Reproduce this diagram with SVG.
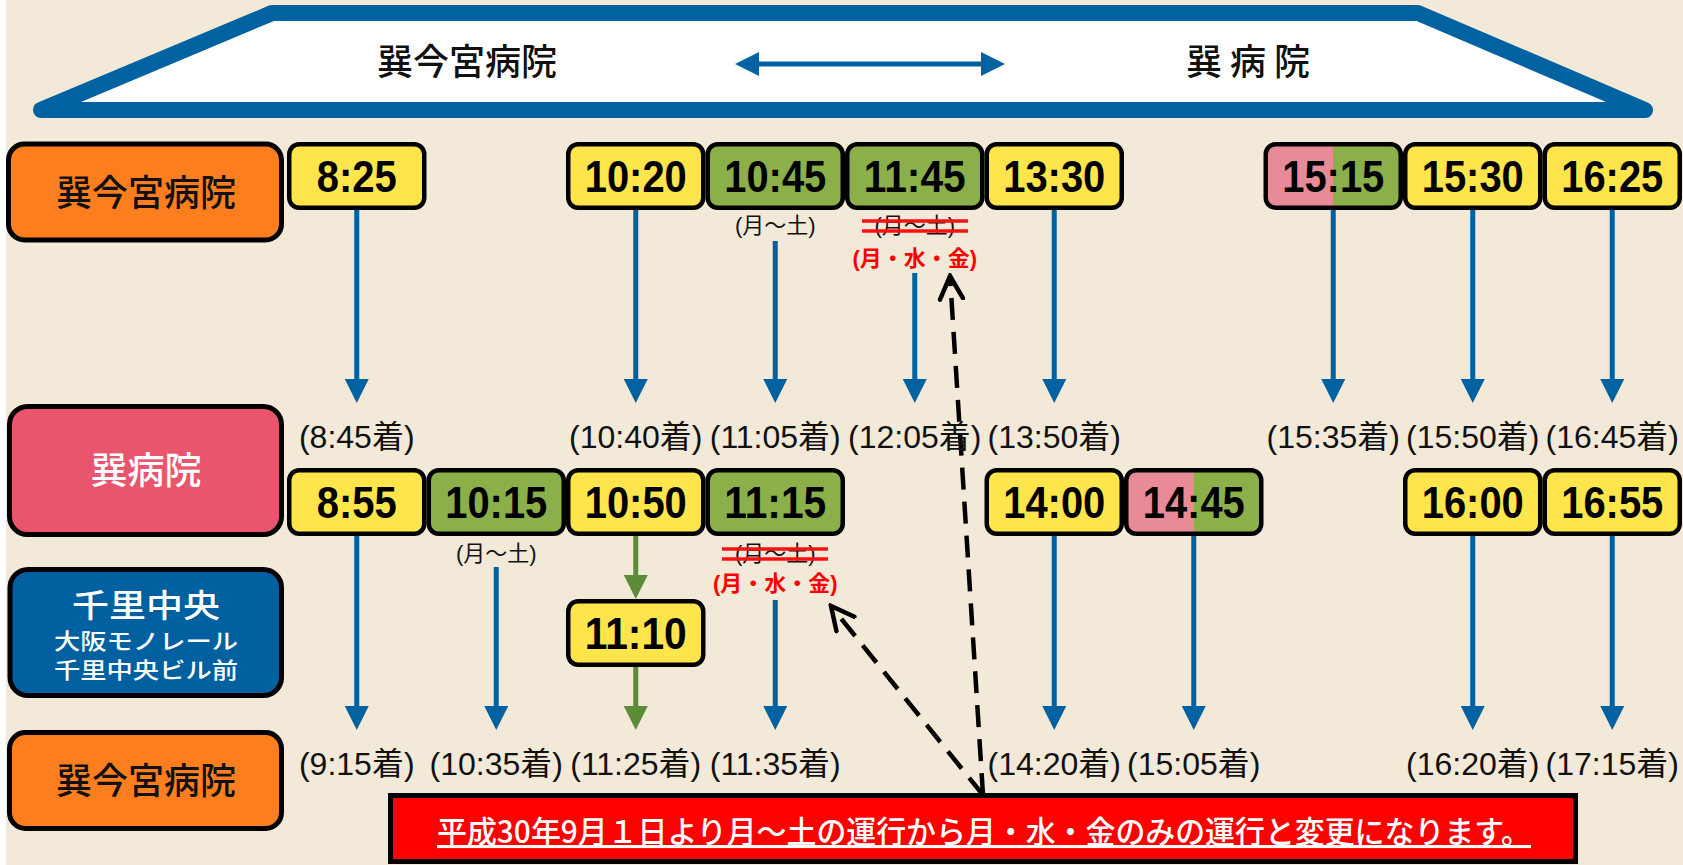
<svg xmlns="http://www.w3.org/2000/svg" width="1683" height="865" viewBox="0 0 1683 865">
<style>
.tb{stroke:#000;stroke-width:4.5}
.y{fill:#FFE54C}
.g{fill:#8BB04A}
.pg{fill:url(#pgGrad)}
.tt{font-family:'Liberation Sans',Arial,sans-serif;font-weight:bold;font-size:45px;text-anchor:middle;fill:#000}
.arr{font-family:'Liberation Sans','Noto Sans CJK JP',sans-serif;font-size:32px;text-anchor:middle;fill:#111}
.sm{font-family:'Liberation Sans','Noto Sans CJK JP',sans-serif;font-size:22px;text-anchor:middle;fill:#111}
.rd{font-family:'Liberation Sans','Noto Sans CJK JP',sans-serif;font-size:22px;font-weight:bold;text-anchor:middle;fill:#FF0000}
.strike{stroke:#FF1010;stroke-width:3.5}
.nd{stroke:#000;stroke-width:5}
.jp{font-family:'Noto Sans CJK JP',sans-serif;text-anchor:middle;font-weight:500}
.bl{stroke:#0062A0;stroke-width:5;fill:none;marker-end:url(#ab)}
.gr{stroke:#5B8C37;stroke-width:5;fill:none;marker-end:url(#ag)}
.dash{stroke:#000;stroke-width:4.5;fill:none;stroke-dasharray:22 12;marker-end:url(#ah)}
</style>
<defs>
<linearGradient id="pgGrad" x1="0" y1="0" x2="1" y2="0">
<stop offset="0.5" stop-color="#E98A98"/>
<stop offset="0.5" stop-color="#8BB04A"/>
</linearGradient>
<marker id="ab" viewBox="0 0 24 24" markerWidth="24" markerHeight="24" markerUnits="userSpaceOnUse" refX="14" refY="12" orient="auto-start-reverse">
<path d="M0,0 L24,12 L0,24 z" fill="#0062A0"/>
</marker>
<marker id="ag" viewBox="0 0 24 24" markerWidth="24" markerHeight="24" markerUnits="userSpaceOnUse" refX="14" refY="12" orient="auto">
<path d="M0,0 L24,12 L0,24 z" fill="#5B8C37"/>
</marker>
<marker id="ah" viewBox="0 0 28 28" markerWidth="28" markerHeight="28" markerUnits="userSpaceOnUse" refX="25" refY="14" orient="auto">
<path d="M2,2.5 L25,14 L2,25.5" fill="none" stroke="#000" stroke-width="4.5" stroke-linecap="round" stroke-linejoin="miter"/>
</marker>
</defs>

<rect x="0" y="0" width="1683" height="865" fill="#FFFFFF"/>
<rect x="6" y="0" width="1677" height="865" fill="#F2E9D8"/>

<g id="banner">
<polygon points="41,110 272,13 1418,13 1645,110" fill="#FFFFFF" stroke="#0062A0" stroke-width="16" stroke-linejoin="round"/>
<text class="jp" x="467" y="75" font-size="36" fill="#111">巽今宮病院</text>
<text class="jp" x="1248" y="75" font-size="36" fill="#111">巽 病 院</text>
<line x1="745" y1="64" x2="995" y2="64" stroke="#0062A0" stroke-width="5" marker-start="url(#ab)" marker-end="url(#ab)"/>
</g>

<g id="node-tatsumi-imamiya-1">
<rect class="nd" x="8.5" y="144" width="273" height="96" rx="16" fill="#FD7E1F"/>
<text class="jp" x="146" y="206" font-size="36" fill="#111">巽今宮病院</text>
</g>
<g id="node-tatsumi">
<rect class="nd" x="9.5" y="406.5" width="272" height="128" rx="18" fill="#EA556E"/>
<text class="jp" x="146" y="484" font-size="37" fill="#FFFFFF" font-weight="normal">巽病院</text>
</g>
<g id="node-senri-chuo">
<rect class="nd" x="10" y="569.5" width="271.5" height="126" rx="18" fill="#0060A0"/>
<text class="jp" x="146" y="617" font-size="32" fill="#FFFFFF" textLength="148" lengthAdjust="spacingAndGlyphs">千里中央</text>
<text class="jp" x="146" y="649" font-size="22" fill="#FFFFFF" textLength="184" lengthAdjust="spacingAndGlyphs">大阪モノレール</text>
<text class="jp" x="146" y="678" font-size="22" fill="#FFFFFF" textLength="184" lengthAdjust="spacingAndGlyphs">千里中央ビル前</text>
</g>
<g id="node-tatsumi-imamiya-2">
<rect class="nd" x="9.5" y="732.5" width="272" height="96" rx="16" fill="#FD7E1F"/>
<text class="jp" x="146" y="794" font-size="36" fill="#111">巽今宮病院</text>
</g>

<g id="connectors">
<path class="bl" d="M356.75,210 V393"/>
<path class="bl" d="M635.75,210 V393"/>
<path class="bl" d="M775.25,241 V393"/>
<path class="bl" d="M914.75,273 V393"/>
<path class="bl" d="M1054.25,210 V393"/>
<path class="bl" d="M1333.25,210 V393"/>
<path class="bl" d="M1472.75,210 V393"/>
<path class="bl" d="M1612.25,210 V393"/>
<path class="bl" d="M356.75,536 V720"/>
<path class="bl" d="M496.25,567 V720"/>
<path class="gr" d="M635.75,536 V589"/>
<path class="gr" d="M635.75,667 V720"/>
<path class="bl" d="M775.25,600 V720"/>
<path class="bl" d="M1054.25,536 V720"/>
<path class="bl" d="M1193.75,536 V720"/>
<path class="bl" d="M1472.75,536 V720"/>
<path class="bl" d="M1612.25,536 V720"/>
<path class="dash" d="M983,795 L950,276"/>
<path class="dash" d="M983,795 L831,606"/>
</g>

<g id="row1-times">
<g id="t0825"><rect class="tb y" x="289.25" y="144.25" width="135" height="63.5" rx="10"/><text class="tt" x="356.75" y="192" textLength="80" lengthAdjust="spacingAndGlyphs">8:25</text></g>
<g id="t1020"><rect class="tb y" x="568.25" y="144.25" width="135" height="63.5" rx="10"/><text class="tt" x="635.75" y="192" textLength="102" lengthAdjust="spacingAndGlyphs">10:20</text></g>
<g id="t1045"><rect class="tb g" x="707.75" y="144.25" width="135" height="63.5" rx="10"/><text class="tt" x="775.25" y="192" textLength="102" lengthAdjust="spacingAndGlyphs">10:45</text></g>
<g id="t1145"><rect class="tb g" x="847.25" y="144.25" width="135" height="63.5" rx="10"/><text class="tt" x="914.75" y="192" textLength="102" lengthAdjust="spacingAndGlyphs">11:45</text></g>
<g id="t1330"><rect class="tb y" x="986.75" y="144.25" width="135" height="63.5" rx="10"/><text class="tt" x="1054.25" y="192" textLength="102" lengthAdjust="spacingAndGlyphs">13:30</text></g>
<g id="t1515"><rect class="tb pg" x="1265.75" y="144.25" width="135" height="63.5" rx="10"/><text class="tt" x="1333.25" y="192" textLength="102" lengthAdjust="spacingAndGlyphs">15:15</text></g>
<g id="t1530"><rect class="tb y" x="1405.25" y="144.25" width="135" height="63.5" rx="10"/><text class="tt" x="1472.75" y="192" textLength="102" lengthAdjust="spacingAndGlyphs">15:30</text></g>
<g id="t1625"><rect class="tb y" x="1544.75" y="144.25" width="135" height="63.5" rx="10"/><text class="tt" x="1612.25" y="192" textLength="102" lengthAdjust="spacingAndGlyphs">16:25</text></g>
</g>

<g id="row1-notes">
<text class="sm" x="775.25" y="233">(月～土)</text>
<text class="sm" x="914.75" y="233">(月～土)</text>
<line class="strike" x1="862" y1="221" x2="968" y2="221"/>
<line class="strike" x1="862" y1="231" x2="968" y2="231"/>
<text class="rd" x="914.75" y="266">(月・水・金)</text>
</g>

<g id="row1-arrivals">
<text class="arr" x="356.75" y="448">(8:45着)</text>
<text class="arr" x="635.75" y="448">(10:40着)</text>
<text class="arr" x="775.25" y="448">(11:05着)</text>
<text class="arr" x="914.75" y="448">(12:05着)</text>
<text class="arr" x="1054.25" y="448">(13:50着)</text>
<text class="arr" x="1333.25" y="448">(15:35着)</text>
<text class="arr" x="1472.75" y="448">(15:50着)</text>
<text class="arr" x="1612.25" y="448">(16:45着)</text>
</g>

<g id="row2-times">
<g id="t0855"><rect class="tb y" x="289.25" y="470.25" width="135" height="63.5" rx="10"/><text class="tt" x="356.75" y="518" textLength="80" lengthAdjust="spacingAndGlyphs">8:55</text></g>
<g id="t1015"><rect class="tb g" x="428.75" y="470.25" width="135" height="63.5" rx="10"/><text class="tt" x="496.25" y="518" textLength="102" lengthAdjust="spacingAndGlyphs">10:15</text></g>
<g id="t1050"><rect class="tb y" x="568.25" y="470.25" width="135" height="63.5" rx="10"/><text class="tt" x="635.75" y="518" textLength="102" lengthAdjust="spacingAndGlyphs">10:50</text></g>
<g id="t1115"><rect class="tb g" x="707.75" y="470.25" width="135" height="63.5" rx="10"/><text class="tt" x="775.25" y="518" textLength="102" lengthAdjust="spacingAndGlyphs">11:15</text></g>
<g id="t1400"><rect class="tb y" x="986.75" y="470.25" width="135" height="63.5" rx="10"/><text class="tt" x="1054.25" y="518" textLength="102" lengthAdjust="spacingAndGlyphs">14:00</text></g>
<g id="t1445"><rect class="tb pg" x="1126.25" y="470.25" width="135" height="63.5" rx="10"/><text class="tt" x="1193.75" y="518" textLength="102" lengthAdjust="spacingAndGlyphs">14:45</text></g>
<g id="t1600"><rect class="tb y" x="1405.25" y="470.25" width="135" height="63.5" rx="10"/><text class="tt" x="1472.75" y="518" textLength="102" lengthAdjust="spacingAndGlyphs">16:00</text></g>
<g id="t1655"><rect class="tb y" x="1544.75" y="470.25" width="135" height="63.5" rx="10"/><text class="tt" x="1612.25" y="518" textLength="102" lengthAdjust="spacingAndGlyphs">16:55</text></g>
</g>

<g id="row2-notes">
<text class="sm" x="496.25" y="561">(月～土)</text>
<text class="sm" x="775.25" y="561">(月～土)</text>
<line class="strike" x1="722" y1="549" x2="828" y2="549"/>
<line class="strike" x1="722" y1="559" x2="828" y2="559"/>
<text class="rd" x="775.25" y="591">(月・水・金)</text>
</g>

<g id="t1110"><rect class="tb y" x="568.25" y="601.25" width="135" height="63.5" rx="10"/><text class="tt" x="635.75" y="649" textLength="102" lengthAdjust="spacingAndGlyphs">11:10</text></g>

<g id="row4-arrivals">
<text class="arr" x="356.75" y="775">(9:15着)</text>
<text class="arr" x="496.25" y="775">(10:35着)</text>
<text class="arr" x="635.75" y="775">(11:25着)</text>
<text class="arr" x="775.25" y="775">(11:35着)</text>
<text class="arr" x="1054.25" y="775">(14:20着)</text>
<text class="arr" x="1193.75" y="775">(15:05着)</text>
<text class="arr" x="1472.75" y="775">(16:20着)</text>
<text class="arr" x="1612.25" y="775">(17:15着)</text>
</g>

<g id="notice">
<rect x="390.5" y="795.5" width="1185" height="66" fill="#FF0000" stroke="#000" stroke-width="5"/>
<text x="984" y="843" font-family="'Noto Sans CJK JP',sans-serif" font-size="31" font-weight="500" fill="#FFFFFF" text-anchor="middle" text-decoration="underline" textLength="1094" lengthAdjust="spacingAndGlyphs">平成30年9月１日より月～土の運行から月・水・金のみの運行と変更になります。</text>
</g>
</svg>
